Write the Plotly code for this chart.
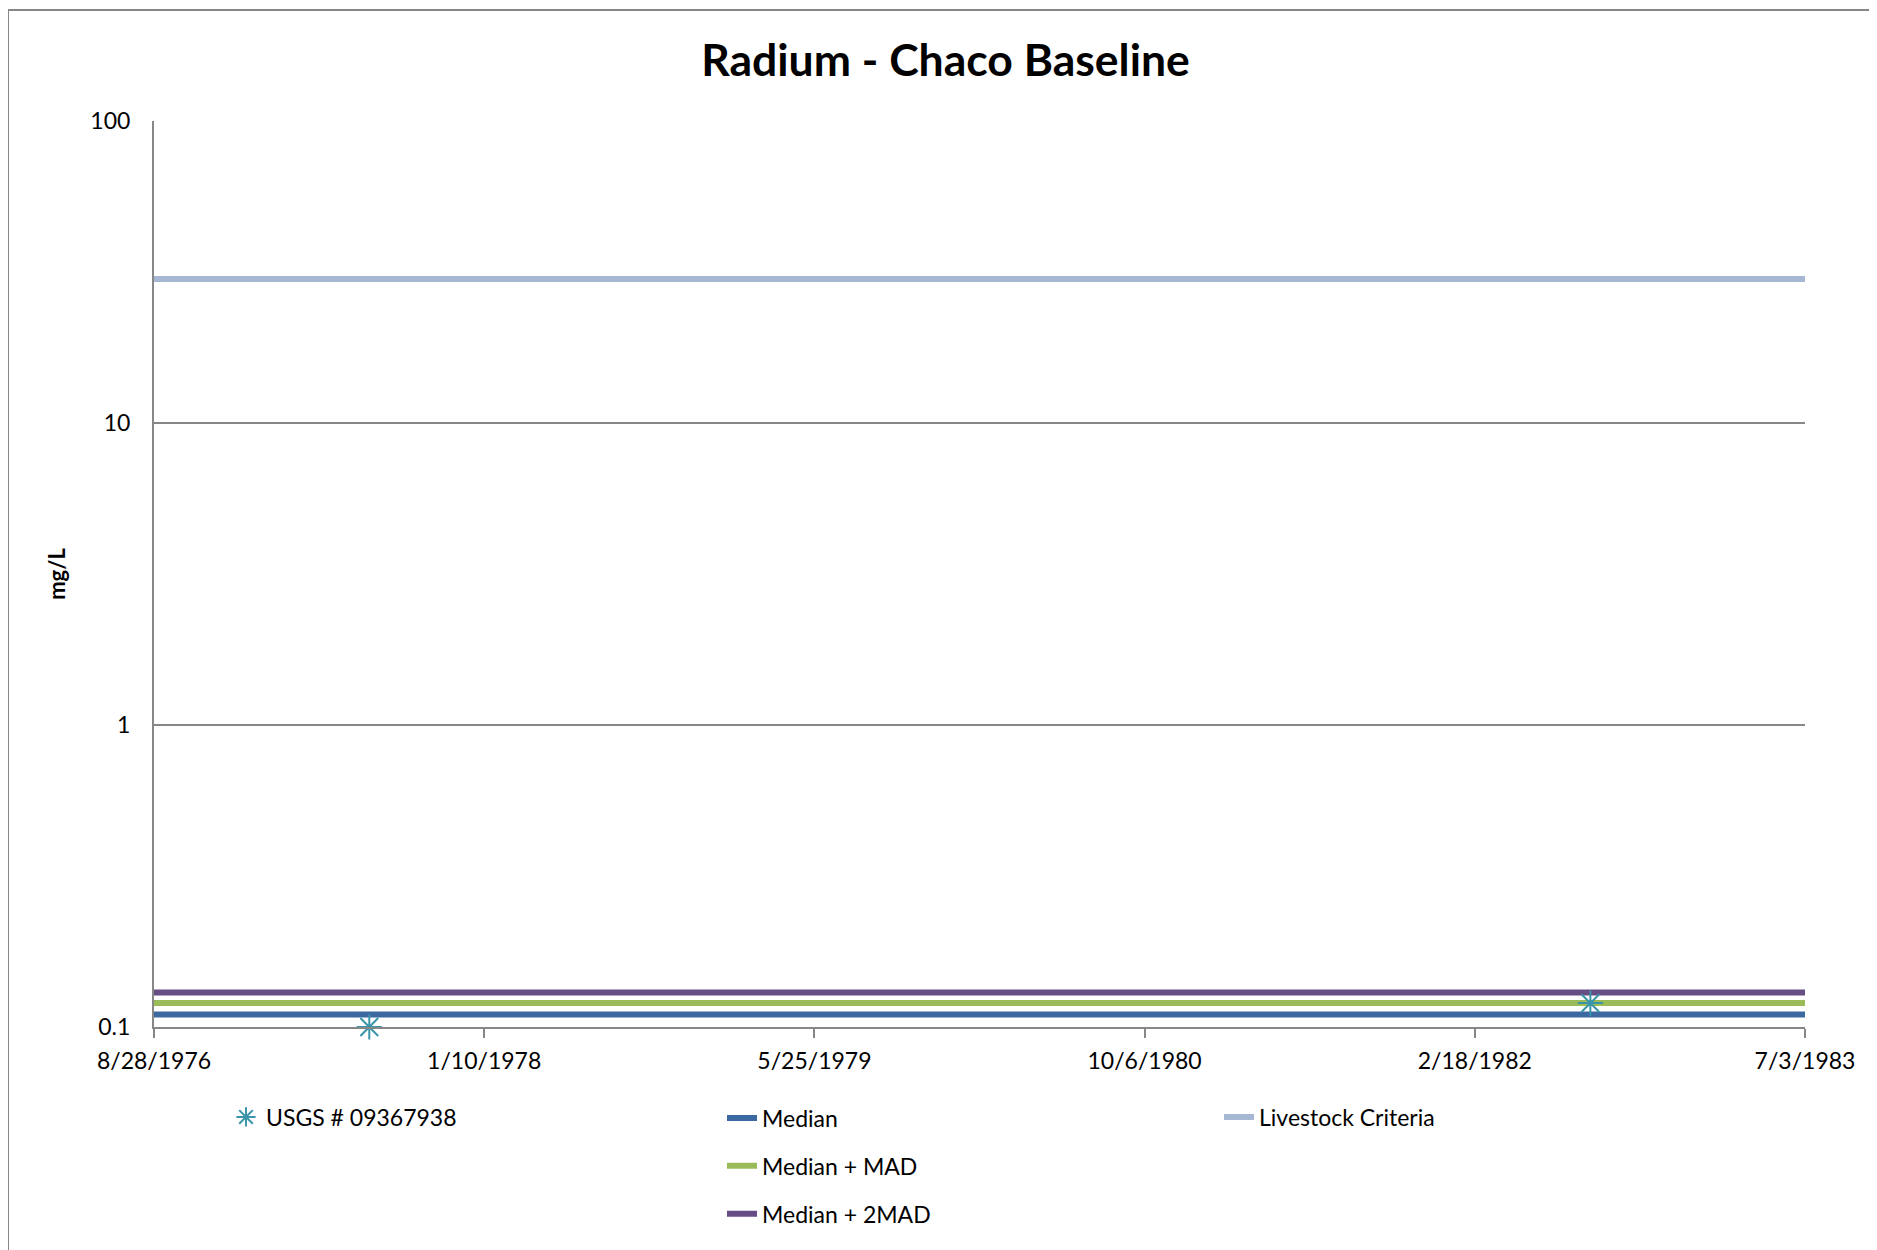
import plotly.graph_objects as go

# ---- data ----
sample_dates = ["1977-07-20", "1982-08-12"]
sample_values = [0.10, 0.12]

span_dates = ["1976-08-28", "1983-07-03"]
median_vals = [0.11, 0.11]
median_mad_vals = [0.12, 0.12]
median_2mad_vals = [0.13, 0.13]
livestock_vals = [30, 30]

x_tick_vals = ["1976-08-28", "1978-01-10", "1979-05-25", "1980-10-06", "1982-02-18", "1983-07-03"]
x_tick_text = ["8/28/1976", "1/10/1978", "5/25/1979", "10/6/1980", "2/18/1982", "7/3/1983"]
y_tick_vals = [0.1, 1, 10, 100]
y_tick_text = ["0.1", "1", "10", "100"]

FONT = "Lato"
GRAY = "#878787"
OFF = 8  # page body margin offset

fig = go.Figure()

fig.add_trace(go.Scatter(x=span_dates, y=livestock_vals, mode="lines", name="Livestock Criteria",
                         line=dict(color="#A5B7D3", width=6), legend="legend3"))
fig.add_trace(go.Scatter(x=span_dates, y=median_vals, mode="lines", name="Median",
                         line=dict(color="#3C69A1", width=6), legend="legend2", legendgroup="a"))
fig.add_trace(go.Scatter(x=span_dates, y=median_mad_vals, mode="lines", name="Median + MAD",
                         line=dict(color="#9BBB59", width=6), legend="legend2", legendgroup="b"))
fig.add_trace(go.Scatter(x=span_dates, y=median_2mad_vals, mode="lines", name="Median + 2MAD",
                         line=dict(color="#664D84", width=6), legend="legend2", legendgroup="c"))
fig.add_trace(go.Scatter(x=sample_dates, y=sample_values, mode="markers", name="USGS # 09367938",
                         marker=dict(symbol="asterisk-open", size=21, color="#3A94AA",
                                     line=dict(color="#3A94AA", width=2)),
                         cliponaxis=False, legend="legend"))

# page-pixel geometry of the plot area (reference), converted to figure pixels
L, R, T, B = 154 - OFF, 1805 - OFF, 121 - OFF, 1027 - OFF
W, H = 1877, 1250
pw, ph = R - L, B - T


def px_x(p):
    return (p - OFF - L) / pw


def px_y(p):
    return (B - (p - OFF)) / ph


legend_font = dict(family=FONT, size=23, color="#000000")

fig.update_layout(
    width=W, height=H,
    margin=dict(l=L, r=W - R, t=T, b=H - B),
    paper_bgcolor="white", plot_bgcolor="white",
    font=dict(family=FONT, color="#000000"),
    title=dict(text="<b>Radium - Chaco Baseline</b>", x=(945.5 - OFF) / W, xref="container", xanchor="center",
               y=1 - (60 - OFF) / H, yref="container", yanchor="middle",
               font=dict(family=FONT, size=44.5, color="#000000")),
    xaxis=dict(type="date", range=[span_dates[0], span_dates[1]],
               tickmode="array", tickvals=x_tick_vals, ticktext=x_tick_text,
               tickfont=dict(family=FONT, size=23, color="#000000"),
               showgrid=False, zeroline=False,
               showline=True, linecolor=GRAY, linewidth=2,
               ticks="outside", ticklen=9, tickwidth=2, tickcolor=GRAY,
               ticklabelstandoff=3),
    yaxis=dict(type="log", range=[-1, 2],
               tickmode="array", tickvals=y_tick_vals, ticktext=y_tick_text,
               tickfont=dict(family=FONT, size=23, color="#000000"),
               showgrid=True, gridcolor=GRAY, gridwidth=1.5,
               showline=True, linecolor=GRAY, linewidth=2,
               ticks="", ticklabelstandoff=17,
               title=dict(text="<b>mg/L</b>", font=dict(family=FONT, size=22, color="#000000"),
                          standoff=19)),
    legend=dict(x=px_x(226), y=px_y(1117), xanchor="left", yanchor="middle",
                orientation="v", font=legend_font, bgcolor="rgba(0,0,0,0)"),
    legend2=dict(x=px_x(722), y=px_y(1166), xanchor="left", yanchor="middle",
                 orientation="v", font=legend_font, tracegroupgap=15, bgcolor="rgba(0,0,0,0)"),
    legend3=dict(x=px_x(1219), y=px_y(1117), xanchor="left", yanchor="middle",
                 orientation="v", font=legend_font, bgcolor="rgba(0,0,0,0)"),
    showlegend=True,
    shapes=[dict(type="rect", xref="paper", yref="paper",
                 x0=px_x(8), x1=px_x(W + 20), y0=px_y(H + 20), y1=px_y(10),
                 line=dict(color=GRAY, width=2), fillcolor="rgba(0,0,0,0)", layer="below")],
)

fig.write_html("out.html")
